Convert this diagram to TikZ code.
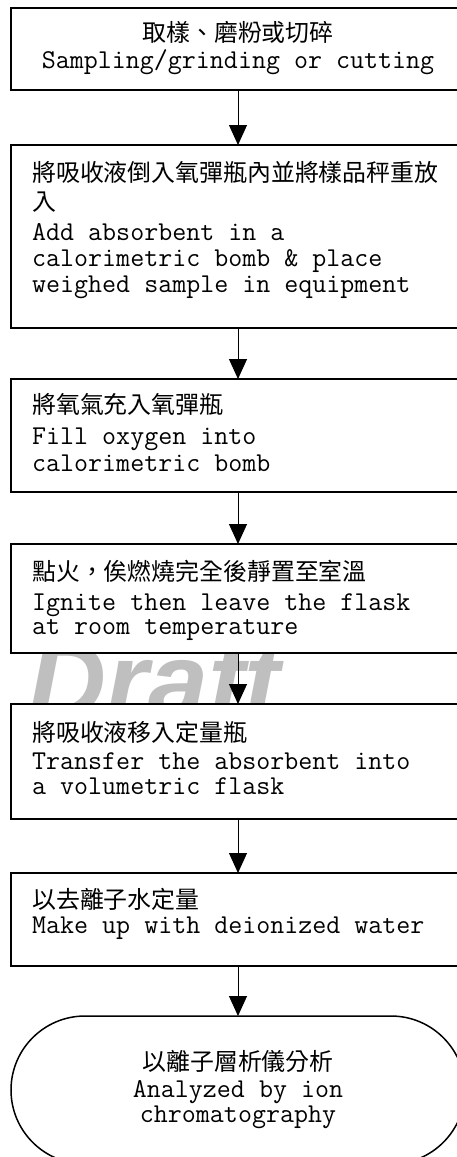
\documentclass[tikz,border=0pt]{standalone}
\usepackage{fontspec}
\newfontfamily\cjk{Noto Sans CJK TC}
\newfontfamily\wmfont{Liberation Sans}
\usetikzlibrary{arrows.meta,shapes.misc}
\begin{document}
\begin{tikzpicture}[x=1pt,y=-1pt,
  box/.style={draw, line width=1.5pt, fill=white, anchor=north west, minimum width=454pt, inner sep=0pt, outer sep=0pt},
  term/.style={draw, line width=1.5pt, fill=white, rounded rectangle, minimum width=454pt, minimum height=148pt, inner sep=0pt, outer sep=0pt},
  cj/.style={font=\fontsize{23.9}{27}\selectfont\cjk, inner sep=0pt, anchor=base west},
  en/.style={font=\fontsize{27.2}{27}\selectfont\ttfamily, inner sep=0pt, anchor=base west},
  cjc/.style={cj, anchor=base},
  enc/.style={en, anchor=base},
  flow/.style={line width=1pt, -{Triangle[width=18pt,length=20pt]}}]
\useasboundingbox (0,0) rectangle (457,1157);
\clip (0,0) rectangle (457,1157);
\begin{scope}
\clip (0,654) rectangle (457,703);
\node[font=\fontsize{108}{108}\selectfont\wmfont\bfseries\itshape, text=black!25, inner sep=0pt, anchor=base west] (wm) at (28,718) {Draft};
\end{scope}
\node[box, minimum height=82pt] (b1) at (11,8) {};
\node[box, minimum height=183pt] (b2) at (11,145) {};
\node[box, minimum height=113pt] (b3) at (11,379) {};
\node[box, minimum height=109pt] (b4) at (11,544) {};
\node[box, minimum height=115pt] (b5) at (11,704) {};
\node[box, minimum height=93pt] (b6) at (11,873) {};
\node[term] (t) at (238,1090) {};
\draw[flow] (b1.south) -- (b2.north);
\draw[flow] (b2.south) -- (b3.north);
\draw[flow] (b3.south) -- (b4.north);
\draw[flow] (b4.south) -- (b5.north);
\draw[flow] (b5.south) -- (b6.north);
\draw[flow] (b6.south) -- (t.north);
% box 1
\node[cjc] (t1a) at (238,41) {取樣、磨粉或切碎};
\node[enc] (t1b) at (238,68) {Sampling/grinding or cutting};
% box 2
\node[cj] (t2a) at (32,181) {將吸收液倒入氧彈瓶內並將樣品秤重放};
\node[cj] (t2b) at (32,210) {入};
\node[en] (t2c) at (32,240) {Add absorbent in a};
\node[en] (t2d) at (32,266) {calorimetric bomb \& place};
\node[en] (t2e) at (32,292) {weighed sample in equipment};
% box 3
\node[cj] (t3a) at (32,413) {將氧氣充入氧彈瓶};
\node[en] (t3b) at (32,444) {Fill oxygen into};
\node[en] (t3c) at (32,471) {calorimetric bomb};
% box 4
\node[cj] (t4a) at (32,580) {點火，俟燃燒完全後靜置至室溫};
\node[en] (t4b) at (32,610) {Ignite then leave the flask};
\node[en] (t4c) at (32,634) {at room temperature};
% box 5
\node[cj] (t5a) at (32,741) {將吸收液移入定量瓶};
\node[en] (t5b) at (32,769) {Transfer the absorbent into};
\node[en] (t5c) at (32,794) {a volumetric flask};
% box 6
\node[cj] (t6a) at (32,908) {以去離子水定量};
\node[en] (t6b) at (32,933) {Make up with deionized water};
% terminal
\node[cjc] (tta) at (238,1070) {以離子層析儀分析};
\node[enc] (ttb) at (238,1097) {Analyzed by ion};
\node[enc] (ttc) at (238,1122) {chromatography};
\end{tikzpicture}
\end{document}
